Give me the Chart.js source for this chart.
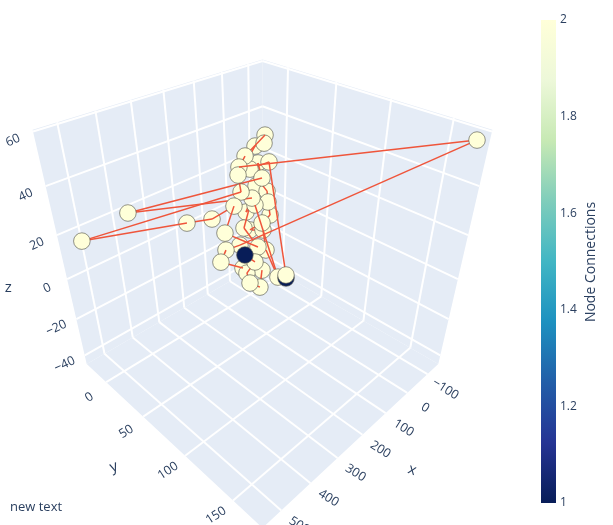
<!DOCTYPE html>
<html>
<head>
<meta charset="utf-8">
<script src="https://cdn.jsdelivr.net/npm/chart.js@4.4.1/dist/chart.umd.min.js"></script>
<style>
  html, body { margin: 0; padding: 0; background: #fff; }
  #wrap { position: relative; width: 613px; height: 525px; }
</style>
</head>
<body>
<div id="wrap"><canvas id="networkChart"></canvas></div>
<script>
// nodes in path order, data coordinates
const nodeX = [302.1, 261.7, 276.3, 310.6, 287.8, 237.1, 258.5, 348.2, 318.9, 230.2, -142.7, 195.5, 151.9, 48.0, 82.0, 89.5, 216.0, 205.9, 553.3, 320.8, 273.0, 252.9, 304.2, 189.6, 174.3, 171.1, 413.7, 121.6, 67.5, 96.1, 142.9, 151.1, 237.3, 167.7, 141.3, 154.8, 146.5, 90.1, 102.1, 92.2, 133.8, 57.5, 264.5, 235.0];
const nodeY = [86.6, 84.2, 80.3, 93.7, 96.6, 84.0, 70.8, 77.2, 73.1, 59.3, 170.8, 49.4, 42.4, 32.7, 41.4, 34.2, 54.7, 54.2, 3.8, 32.7, 44.1, 61.4, 67.9, 66.1, 46.7, 54.8, 0.1, 50.7, 30.8, 36.9, 39.6, 51.9, 99.7, 68.2, 57.4, 47.3, 57.9, 50.4, 51.5, 47.6, 41.9, 39.7, 114.3, 106.7];
const nodeZ = [21.5, 15.0, 10.2, 12.1, 9.3, 9.5, 8.6, 19.5, 21.4, 14.0, 56.6, 42.5, 43.4, 45.3, 45.0, 43.0, 41.4, 34.0, 24.7, 23.5, 24.7, 32.5, 26.2, 12.0, 15.0, 29.6, 26.5, 34.4, 34.3, 27.0, 18.7, 24.9, 10.6, 9.6, 14.4, 13.0, 18.0, 16.4, 23.2, 26.6, 37.1, 35.8, 17.5, 11.9];
const nodeConnections = [1, 2, 2, 2, 2, 2, 2, 2, 2, 2, 2, 2, 2, 2, 2, 2, 2, 2, 2, 2, 2, 2, 2, 2, 2, 2, 2, 2, 2, 2, 2, 2, 2, 2, 2, 2, 2, 2, 2, 2, 2, 2, 2, 1];

const xRange = [-157, 560];
const yRange = [-29, 177.5];
const zRange = [-45, 60.6];
const xTicks = [-100, 0, 100, 200, 300, 400, 500];
const yTicks = [0, 50, 100, 150];
const zTicks = [-40, -20, 0, 20, 40, 60];
const colorbarTicks = [1, 1.2, 1.4, 1.6, 1.8, 2];

const YLGNBU = [
  [0, [8, 29, 88]], [0.125, [37, 52, 148]], [0.25, [34, 94, 168]],
  [0.375, [29, 145, 192]], [0.5, [65, 182, 196]], [0.625, [127, 205, 187]],
  [0.75, [199, 233, 180]], [0.875, [237, 248, 217]], [1, [255, 255, 217]]
];
const TEXT_COLOR = "#2a3f5f";
const EDGE_COLOR = "#EF553B";
const FONT = "'Open Sans', Verdana, Arial, sans-serif";

// camera: plotly default eye (1.25,1.25,1.25) over a unit cube
const EYE = 2.5;
const FOCAL = 610;
const SCENE_CX = 262.5;
const SCENE_CY = 262.5;

function norm(val, range) {
  return (2 * (val - range[0])) / (range[1] - range[0]) - 1;
}

function project(x, y, z) {
  const dx = norm(x, xRange) - EYE;
  const dy = norm(y, yRange) - EYE;
  const dz = norm(z, zRange) - EYE;
  const depth = -(dx + dy + dz) / Math.sqrt(3);
  const sx = (-dx + dy) / Math.SQRT2;
  const sy = (-dx - dy + 2 * dz) / Math.sqrt(6);
  return {
    x: SCENE_CX + (FOCAL * sx) / depth,
    y: SCENE_CY - (FOCAL * sy) / depth,
    depth: depth,
  };
}

function colorFor(value) {
  const t = Math.min(1, Math.max(0, (value - 1) / (2 - 1)));
  for (let i = 1; i < YLGNBU.length; i++) {
    if (t <= YLGNBU[i][0]) {
      const [t0, c0] = YLGNBU[i - 1];
      const [t1, c1] = YLGNBU[i];
      const f = (t - t0) / (t1 - t0);
      const c = c0.map((v, k) => Math.round(v + (c1[k] - v) * f));
      return `rgb(${c[0]}, ${c[1]}, ${c[2]})`;
    }
  }
  return "rgb(255, 255, 217)";
}

const projected = nodeX.map((x, i) => project(x, nodeY[i], nodeZ[i]));
const datasets = [];

// edges between consecutive nodes
for (let i = 0; i < nodeX.length - 1; i++) {
  const a = projected[i];
  const b = projected[i + 1];
  datasets.push({
    data: [{ x: a.x, y: a.y }, { x: b.x, y: b.y }],
    showLine: true,
    pointRadius: 0,
    borderColor: EDGE_COLOR,
    borderWidth: 1.5,
    order: (a.depth + b.depth) / 2,
  });
}

// nodes, far ones drawn first
projected.forEach((p, i) => {
  datasets.push({
    data: [{ x: p.x, y: p.y }],
    pointRadius: 8.3,
    backgroundColor: colorFor(nodeConnections[i]),
    borderColor: "rgba(90, 90, 80, 0.65)",
    borderWidth: 1,
    order: p.depth,
  });
});

function toPixel(chart, x, y, z) {
  const p = project(x, y, z);
  return [chart.scales.x.getPixelForValue(p.x), chart.scales.y.getPixelForValue(p.y)];
}

const scenePlugin = {
  id: "scene",
  beforeDatasetsDraw(chart) {
    const ctx = chart.ctx;
    const [x0, x1] = xRange;
    const [y0, y1] = yRange;
    const [z0, z1] = zRange;
    ctx.save();

    const walls = [
      [[x0, y0, z0], [x1, y0, z0], [x1, y0, z1], [x0, y0, z1]],
      [[x0, y0, z0], [x0, y1, z0], [x0, y1, z1], [x0, y0, z1]],
      [[x0, y0, z0], [x1, y0, z0], [x1, y1, z0], [x0, y1, z0]],
    ];
    ctx.fillStyle = "#E5ECF6";
    walls.forEach((wall) => {
      ctx.beginPath();
      wall.forEach((c, i) => {
        const [px, py] = toPixel(chart, c[0], c[1], c[2]);
        if (i === 0) ctx.moveTo(px, py);
        else ctx.lineTo(px, py);
      });
      ctx.closePath();
      ctx.fill();
    });

    ctx.strokeStyle = "#ffffff";
    ctx.lineWidth = 2;
    const seg = (a, b) => {
      const pa = toPixel(chart, a[0], a[1], a[2]);
      const pb = toPixel(chart, b[0], b[1], b[2]);
      ctx.beginPath();
      ctx.moveTo(pa[0], pa[1]);
      ctx.lineTo(pb[0], pb[1]);
      ctx.stroke();
    };
    xTicks.forEach((t) => {
      if (t < x0 || t > x1) return;
      seg([t, y0, z0], [t, y0, z1]);
      seg([t, y0, z0], [t, y1, z0]);
    });
    yTicks.forEach((t) => {
      if (t < y0 || t > y1) return;
      seg([x0, t, z0], [x0, t, z1]);
      seg([x0, t, z0], [x1, t, z0]);
    });
    zTicks.forEach((t) => {
      if (t < z0 || t > z1) return;
      seg([x0, y0, t], [x1, y0, t]);
      seg([x0, y0, t], [x0, y1, t]);
    });
    ctx.restore();
  },
  afterDraw(chart) {
    const ctx = chart.ctx;
    const [x0, x1] = xRange;
    const [y0, y1] = yRange;
    const [z0, z1] = zRange;
    ctx.save();
    ctx.fillStyle = TEXT_COLOR;
    ctx.textAlign = "center";
    ctx.textBaseline = "middle";

    const label = (text, px, py, angle, size) => {
      ctx.save();
      ctx.translate(px, py);
      ctx.rotate((angle * Math.PI) / 180);
      ctx.font = `${size}px ${FONT}`;
      ctx.fillText(text, 0, 0);
      ctx.restore();
    };
    const fmt = (t) => (t < 0 ? "\u2212" + Math.abs(t) : String(t));

    xTicks.forEach((t) => {
      const [px, py] = toPixel(chart, t, y1, z0);
      label(fmt(t), px + 18, py + 15, 32, 12.5);
    });
    yTicks.forEach((t) => {
      const [px, py] = toPixel(chart, x1, t, z0);
      label(fmt(t), px - 17, py + 15, -33, 12.5);
    });
    zTicks.forEach((t) => {
      const [px, py] = toPixel(chart, x1, y0, t);
      label(fmt(t), px - 20, py + 9, -25, 12.5);
    });

    const xm = toPixel(chart, (x0 + x1) / 2, y1, z0);
    label("x", xm[0] + 50, xm[1] + 35, 20, 15);
    const ym = toPixel(chart, x1, (y0 + y1) / 2, z0);
    label("y", ym[0] - 49, ym[1] + 32, -20, 15);
    const zm = toPixel(chart, x1, y0, (z0 + z1) / 2);
    label("z", zm[0] - 55, zm[1] + 25, 0, 15);

    // colorbar
    const barL = 541, barW = 15, barTop = 20, barBottom = 503;
    const grad = ctx.createLinearGradient(0, barBottom, 0, barTop);
    YLGNBU.forEach(([t, c]) => grad.addColorStop(t, `rgb(${c[0]}, ${c[1]}, ${c[2]})`));
    ctx.fillStyle = grad;
    ctx.fillRect(barL, barTop, barW, barBottom - barTop);

    ctx.fillStyle = TEXT_COLOR;
    ctx.font = `12px ${FONT}`;
    ctx.textAlign = "left";
    colorbarTicks.forEach((t) => {
      const py = barBottom - ((t - 1) / (2 - 1)) * (barBottom - barTop);
      ctx.fillText(String(t), barL + barW + 4, py);
    });
    ctx.save();
    ctx.translate(591, 262);
    ctx.rotate(-Math.PI / 2);
    ctx.textAlign = "center";
    ctx.font = `14px ${FONT}`;
    ctx.fillText("Node Connections", 0, 0);
    ctx.restore();

    ctx.textAlign = "left";
    ctx.font = `13px ${FONT}`;
    ctx.fillText("new text", 10, 507);
    ctx.restore();
  },
};

new Chart(document.getElementById("networkChart"), {
  type: "scatter",
  data: { datasets: datasets },
  options: {
    animation: false,
    responsive: true,
    maintainAspectRatio: false,
    events: [],
    layout: { padding: 0, autoPadding: false },
    plugins: {
      legend: { display: false },
      tooltip: { enabled: false },
    },
    scales: {
      x: { type: "linear", min: 0, max: 613, display: false },
      y: { type: "linear", min: 0, max: 525, reverse: true, display: false },
    },
  },
  plugins: [scenePlugin],
});
</script>
</body>
</html>
